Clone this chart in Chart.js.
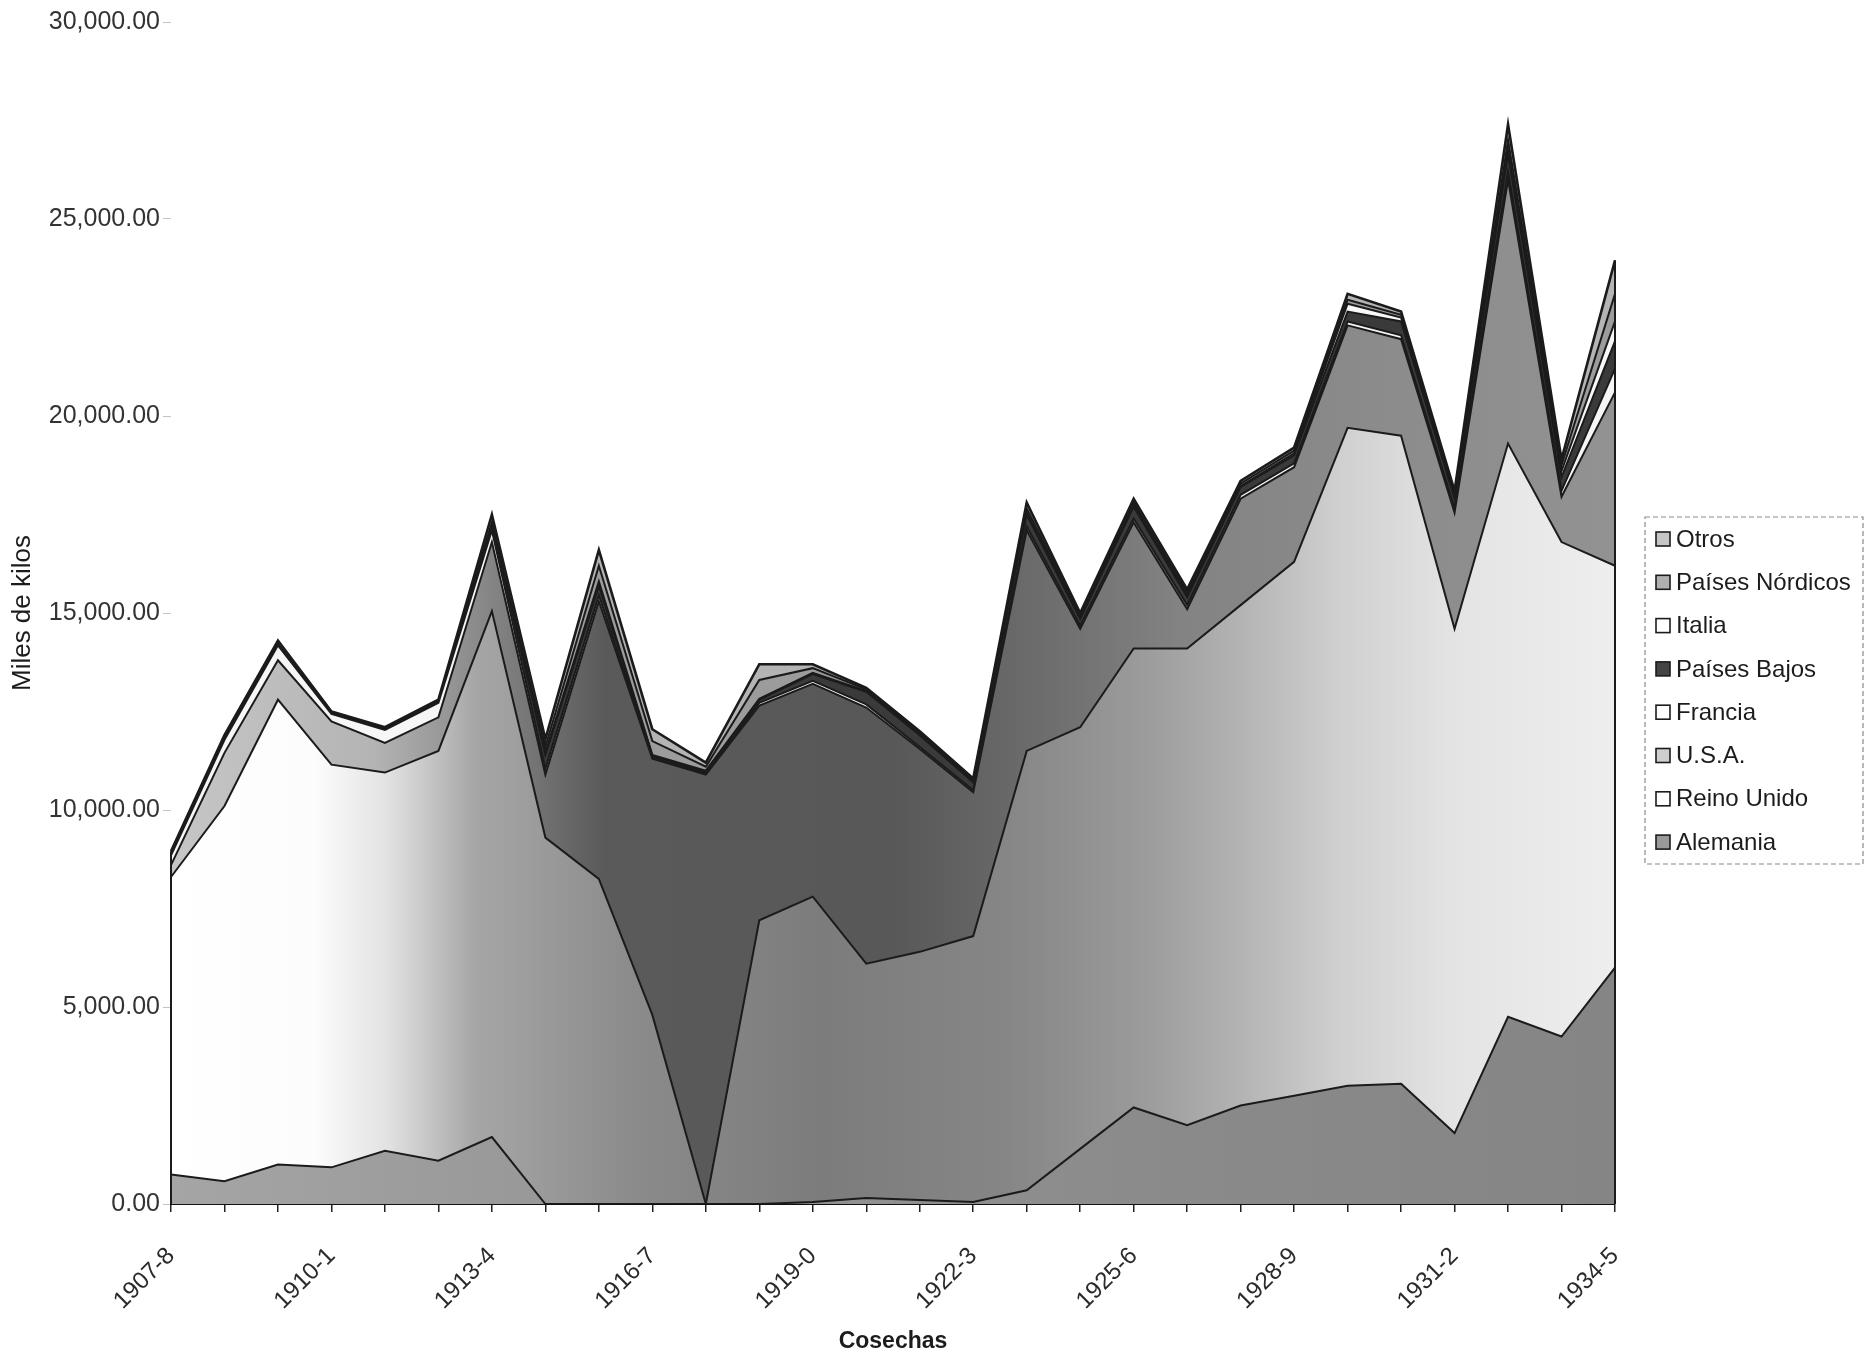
<!DOCTYPE html>
<html>
<head>
<meta charset="utf-8">
<title>Exportaciones por destino</title>
<script src="https://cdn.jsdelivr.net/npm/chart.js@4/dist/chart.umd.min.js"></script>
<style>
  html, body { margin: 0; padding: 0; background: #ffffff; }
  #wrap { width: 1876px; height: 1357px; position: relative; }
  canvas { display: block; }
</style>
</head>
<body>
<div id="wrap"><canvas id="c" width="1876" height="1357"></canvas></div>
<script>
// Cosechas (campañas)
const seasons = ['1907-8','1908-9','1909-0','1910-1','1911-2','1912-3','1913-4','1914-5','1915-6','1916-7',
                 '1917-8','1918-9','1919-0','1920-1','1921-2','1922-3','1923-4','1924-5','1925-6','1926-7',
                 '1927-8','1928-9','1929-0','1930-1','1931-2','1932-3','1933-4','1934-5'];

// Miles de kilos por destino
const alemania     = [750,580,1000,930,1350,1100,1700,0,0,0,0,0,50,150,100,50,350,1400,2450,2000,2500,2750,3000,3050,1800,4750,4250,6000];
const reinoUnido   = [7550,9520,11800,10220,9600,10400,13350,9300,8250,4800,0,7200,7750,5950,6300,6750,11150,10700,11650,12100,12700,13550,16700,16450,12800,14550,12550,10200];
const usa          = [300,1350,1000,1100,750,850,1750,1600,7050,6500,10900,5450,5400,6500,5150,3650,5600,2500,3200,1000,2700,2400,2600,2450,2950,6700,1150,4400];
const francia      = [250,330,380,190,330,370,300,150,150,30,30,70,80,80,50,50,100,80,100,100,100,100,100,100,100,200,150,600];
const paisesBajos  = [10,10,10,10,10,10,150,350,250,50,40,80,170,320,300,200,300,170,300,200,200,200,250,350,250,450,350,700];
const italia       = [0,0,0,0,0,0,0,50,100,20,30,20,30,20,20,20,50,30,30,50,20,50,200,100,30,100,150,500];
const nordicos     = [10,20,20,10,20,20,50,150,400,350,100,480,120,40,40,40,100,60,70,70,60,70,100,70,70,250,150,700];
const otros        = [80,90,90,40,40,50,200,200,400,300,100,400,100,40,40,40,150,60,100,80,70,80,150,80,100,400,150,850];

const seriesNames = ['Alemania','Reino Unido','U.S.A.','Francia','Países Bajos','Italia','Países Nórdicos','Otros'];
const seriesData  = [alemania, reinoUnido, usa, francia, paisesBajos, italia, nordicos, otros];

// Value axis ticks
const yTicks = [0, 5000, 10000, 15000, 20000, 25000, 30000];

const FONT = '"Liberation Sans", Arial, Helvetica, sans-serif';

// Horizontal gradient fill across the plot area
function hGradient(stops) {
  return (ctx) => {
    const area = ctx.chart.chartArea;
    if (!area) return stops[0][1];
    const g = ctx.chart.ctx.createLinearGradient(area.left, 0, area.right, 0);
    stops.forEach(([p, c]) => g.addColorStop(p, c));
    return g;
  };
}

const fills = [
  hGradient([[0, '#a5a5a5'], [0.3, '#969696'], [0.7, '#8a8a8a'], [1, '#858585']]),
  hGradient([[0, '#ffffff'], [0.10, '#fcfcfc'], [0.15, '#e2e2e2'], [0.21, '#a6a6a6'], [0.32, '#8b8b8b'],
             [0.45, '#7c7c7c'], [0.58, '#868686'], [0.67, '#9a9a9a'], [0.74, '#b3b3b3'], [0.81, '#d0d0d0'],
             [0.89, '#e4e4e4'], [1, '#eeeeee']]),
  hGradient([[0, '#c6c6c6'], [0.14, '#b4b4b4'], [0.24, '#7a7a7a'], [0.3, '#5a5a5a'], [0.5, '#585858'],
             [0.6, '#6c6c6c'], [0.7, '#838383'], [0.85, '#8c8c8c'], [1, '#929292']]),
  '#f6f6f6',
  '#3a3a3a',
  '#f8f8f8',
  '#9c9c9c',
  '#b4b4b4'
];

// Swatches for the legend
const legendSwatch = ['#9a9a9a', '#ffffff', '#cfcfcf', '#ffffff', '#444444', '#ffffff', '#b0b0b0', '#c6c6c6'];

const datasets = seriesData.map((d, i) => ({
  label: seriesNames[i],
  data: d,
  fill: i === 0 ? 'origin' : '-1',
  backgroundColor: fills[i],
  borderColor: '#1b1b1b',
  borderWidth: i === seriesData.length - 1 ? 2.6 : 2,
  pointRadius: 0,
  tension: 0
}));

// Closing edges of the stacked areas at the first and last season
const edgePlugin = {
  id: 'edges',
  afterDatasetsDraw(chart) {
    const { ctx, scales: { x, y } } = chart;
    const last = seasons.length - 1;
    [0, last].forEach(idx => {
      const total = seriesData.reduce((s, arr) => s + arr[idx], 0);
      const px = x.getPixelForValue(idx);
      ctx.save();
      ctx.strokeStyle = '#1b1b1b';
      ctx.lineWidth = 2;
      ctx.beginPath();
      ctx.moveTo(px, y.getPixelForValue(0));
      ctx.lineTo(px, y.getPixelForValue(total));
      ctx.stroke();
      ctx.restore();
    });
  }
};

// Boxed legend, top series first
const legendPlugin = {
  id: 'boxLegend',
  afterDraw(chart) {
    const { ctx } = chart;
    const left = 1645, top = 517, width = 218, height = 347;
    ctx.save();
    ctx.strokeStyle = '#8a8a8a';
    ctx.lineWidth = 1.2;
    ctx.setLineDash([5, 3]);
    ctx.strokeRect(left, top, width, height);
    ctx.setLineDash([]);
    ctx.font = '24px ' + FONT;
    ctx.textBaseline = 'middle';
    const n = seriesNames.length;
    for (let k = 0; k < n; k++) {
      const i = n - 1 - k;
      const cy = 539 + k * 43.3;
      ctx.fillStyle = legendSwatch[i];
      ctx.fillRect(1656, cy - 7, 14, 14);
      ctx.strokeStyle = '#1c1c1c';
      ctx.lineWidth = 1.6;
      ctx.strokeRect(1656, cy - 7, 14, 14);
      ctx.fillStyle = '#1c1c1c';
      ctx.fillText(seriesNames[i], 1676, cy + 1);
    }
    ctx.restore();
  }
};

new Chart(document.getElementById('c'), {
  type: 'line',
  data: { labels: seasons, datasets },
  plugins: [edgePlugin, legendPlugin],
  options: {
    responsive: false,
    animation: false,
    devicePixelRatio: 1,
    layout: { padding: { left: 5, right: 261, top: 22, bottom: 0 } },
    plugins: {
      legend: { display: false },
      tooltip: { enabled: false }
    },
    scales: {
      x: {
        type: 'category',
        offset: false,
        afterFit(scale) { scale.height = 153; },
        border: { display: true, color: '#111111', width: 2 },
        grid: { drawOnChartArea: false, drawTicks: true, tickLength: 8, color: '#222222', lineWidth: 1.5 },
        ticks: {
          autoSkip: false,
          maxRotation: 45,
          minRotation: 45,
          padding: 30,
          color: '#2a2a2a',
          font: { family: FONT, size: 24 },
          callback: (v, idx) => (idx % 3 === 0 ? seasons[idx] : '')
        },
        title: {
          display: true,
          text: 'Cosechas',
          color: '#1c1c1c',
          font: { family: FONT, size: 23, weight: 'bold' },
          padding: { top: 4, bottom: 2 }
        }
      },
      y: {
        stacked: true,
        min: 0,
        max: 30000,
        afterFit(scale) { scale.width = 166; },
        afterBuildTicks(scale) { scale.ticks = yTicks.map(v => ({ value: v })); },
        border: { display: false },
        grid: { drawOnChartArea: false, drawTicks: true, tickLength: 8, color: '#c4c4c4' },
        ticks: {
          padding: 3,
          color: '#333333',
          font: { family: FONT, size: 25 },
          callback: v => Number(v).toLocaleString('en-US', { minimumFractionDigits: 2, maximumFractionDigits: 2 })
        },
        title: {
          display: true,
          text: 'Miles de kilos',
          color: '#1c1c1c',
          font: { family: FONT, size: 26 },
          padding: { top: 2, bottom: 4 }
        }
      }
    }
  }
});
</script>
</body>
</html>
